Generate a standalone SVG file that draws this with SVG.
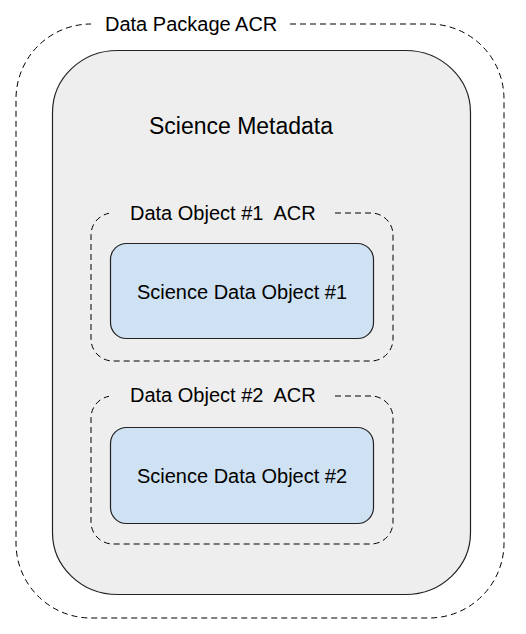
<svg xmlns="http://www.w3.org/2000/svg" width="526" height="634" viewBox="0 0 526 634">
<style>
.dash{fill:none;stroke:#000;stroke-width:1;stroke-dasharray:6 4}
.meta{fill:#eeeeee;stroke:#222;stroke-width:1.2}
.obj{fill:#cfe2f3;stroke:#222;stroke-width:1.2}
text{font-family:"Liberation Sans",Arial,sans-serif;fill:#000;white-space:pre;font-size:20px}
</style>
<rect width="526" height="634" fill="#fff"/>
<g id="data-package-acr">
<path class="dash" d="M290,24 H429 A75,75 0 0 1 504,99 V543 A75,75 0 0 1 429,618 H91 A75,75 0 0 1 16,543 V99 A75,75 0 0 1 91,24"/>
<text x="105" y="31">Data Package ACR</text>
</g>
<g id="science-metadata">
<rect class="meta" x="52.5" y="50.5" width="418" height="544" rx="65" ry="62"/>
<text x="241" y="134" style="font-size:23px" text-anchor="middle">Science Metadata</text>
</g>
<g id="data-object-1-acr">
<path class="dash" d="M335,213 H371 A22,22 0 0 1 393,235 V339 A22,22 0 0 1 371,361 H113 A22,22 0 0 1 91,339 V235 A22,22 0 0 1 109,213.3"/>
<text x="130" y="220" xml:space="preserve">Data Object #1  ACR</text>
</g>
<g id="science-data-object-1">
<rect class="obj" x="110.5" y="243.5" width="263" height="95" rx="16"/>
<text x="242" y="299" text-anchor="middle">Science Data Object #1</text>
</g>
<g id="data-object-2-acr">
<path class="dash" d="M335,396 H371 A22,22 0 0 1 393,418 V522 A22,22 0 0 1 371,544 H113 A22,22 0 0 1 91,522 V418 A22,22 0 0 1 109,396.3"/>
<text x="130" y="402" xml:space="preserve">Data Object #2  ACR</text>
</g>
<g id="science-data-object-2">
<rect class="obj" x="110.5" y="427.5" width="263" height="96" rx="16"/>
<text x="242" y="483" text-anchor="middle">Science Data Object #2</text>
</g>
<g id="connectors"></g>
</svg>
